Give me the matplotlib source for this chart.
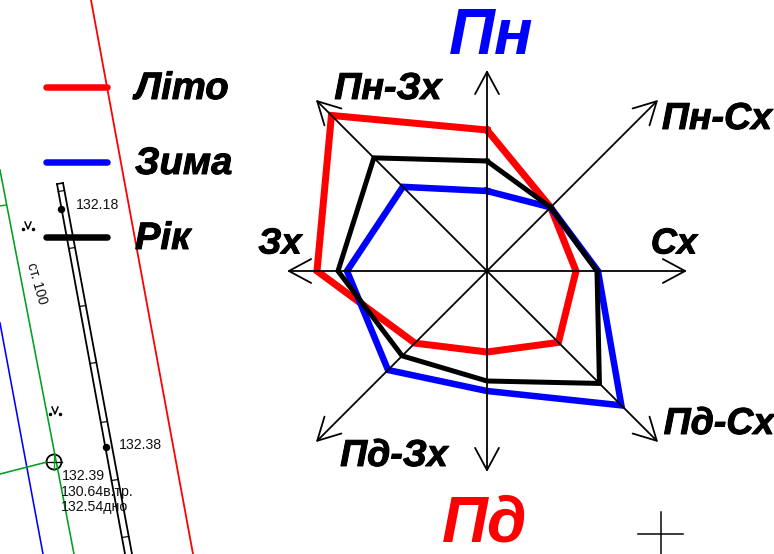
"""Wind rose over a site plan fragment, drawn in pixel coordinates."""

import matplotlib
matplotlib.use("Agg")
import matplotlib.pyplot as plt
import matplotlib.patheffects as pe
import numpy as np

plt.rcParams["font.family"] = ["Liberation Sans", "DejaVu Sans"]

W, H = 774, 554
CX, CY = 487, 271

# clockwise from north, radius in pixels
DIRECTIONS = ["Пн", "Пн-Сх", "Сх", "Пд-Сх", "Пд", "Пд-Зх", "Зх", "Пн-Зх"]
ANGLES = [90, 45, 0, -45, -90, -135, 180, 135]
AXIS_LEN = [201, 242, 200, 242, 201, 242, 200, 242]
SUMMER = [141, 90, 89, 101, 81, 102, 170, 220]
WINTER = [80, 90, 111, 190, 120, 140, 140, 119]
YEAR = [110, 90, 110, 159, 110, 120, 149, 160]

SERIES_NAMES = ["Літо", "Зима", "Рік"]
SERIES_COLORS = ["#ff0000", "#0000ff", "#000000"]

# site plan
PIPE_LEFT = ([57, 125], [184, 554])
PIPE_RIGHT = ([63, 132], [183, 554])
PIPE_TICKS_Y = [191, 248, 306, 363, 422, 480, 537]
PIPE_DOTS = [(61, 209), (106, 447)]
PIPE_LABELS = [(76, 205, "132.18"), (119, 445, "132.38")]

HEAVY = [pe.withStroke(linewidth=0.7, foreground="k")]


def px(v):
    return v * 0.72


def polar(r, ang):
    a = np.radians(ang)
    return CX + r * np.cos(a), CY - r * np.sin(a)


def draw_plan(ax):
    ax.plot([91, 193], [0, 554], color="#ff0000", lw=px(1.8))
    ax.plot([0, 74], [170, 554], color="#00a020", lw=px(1.6))
    ax.plot([0, 43], [323, 554], color="#0000ff", lw=px(1.6))
    ax.plot([0, 47], [474, 462], color="#00a020", lw=px(1.6))
    ax.plot([0, 6], [206, 205], color="#00a020", lw=px(1.4))

    ax.plot(*PIPE_LEFT, color="k", lw=px(1.8))
    ax.plot(*PIPE_RIGHT, color="k", lw=px(1.8))
    ax.plot([57, 63], [184, 183], color="k", lw=px(1.6))
    for y in PIPE_TICKS_Y:
        xl = np.interp(y, PIPE_LEFT[1], PIPE_LEFT[0])
        xr = np.interp(y, PIPE_RIGHT[1], PIPE_RIGHT[0])
        ax.plot([xl, xr], [y + 0.5, y - 0.5], color="k", lw=px(1.2))

    for x, y in PIPE_DOTS:
        ax.plot(x, y, "o", color="k", ms=px(6))
    for x, y, label in PIPE_LABELS:
        ax.text(x, y, label, fontsize=10.2, va="center", color="#111")

    # well
    ax.add_patch(plt.Circle((54, 462), 7.5, fill=False, ec="k", lw=px(1.8)))
    ax.plot([47, 62], [462, 462], color="k", lw=px(1.3))
    ax.plot([54, 54], [455, 470], color="#00a020", lw=px(1.3))
    ax.text(62, 476, "132.39", fontsize=10.2, va="center", color="#111")
    ax.text(61, 492, "130.64в.тр.", fontsize=10.2, va="center", color="#111")
    ax.text(61, 507, "132.54дно", fontsize=10.2, va="center", color="#111")

    ax.text(37, 283, "ст. 100", fontsize=10, rotation=-74, ha="center", va="center",
            color="#111")

    # marsh symbols
    for x, y in [(28, 226), (55, 411)]:
        ax.plot([x - 3, x, x + 3], [y - 4, y + 3, y - 4], color="k", lw=px(1.5))
        ax.plot([x - 5, x + 5], [y + 3, y + 3], color="k", lw=0, marker=".", ms=3)


def draw_axes(ax):
    for ang, length in zip(ANGLES, AXIS_LEN):
        x, y = polar(length, ang)
        ax.annotate("", xy=(x, y), xytext=(CX, CY),
                    arrowprops=dict(arrowstyle="->,head_length=0.8,head_width=0.43",
                                    color="k", lw=px(1.8), mutation_scale=20,
                                    shrinkA=0, shrinkB=0))


def draw_rose(ax):
    for vals, color, lw in [(SUMMER, SERIES_COLORS[0], 7),
                            (WINTER, SERIES_COLORS[1], 6.5),
                            (YEAR, SERIES_COLORS[2], 5)]:
        pts = [polar(r, a) for r, a in zip(vals, ANGLES)]
        pts.append(pts[0])
        xs, ys = zip(*pts)
        ax.plot(xs, ys, color=color, lw=px(lw), solid_joinstyle="miter")


def draw_labels(ax):
    style = dict(fontweight="bold", fontstyle="italic", ha="center", va="center")
    ax.text(491, 37, DIRECTIONS[0], color="#0000ff", fontsize=46, **style)
    ax.text(485, 524, DIRECTIONS[4], color="#ff0000", fontsize=46, **style)
    ax.text(717, 119, DIRECTIONS[1], fontsize=27, path_effects=HEAVY, **style)
    ax.text(674, 244, DIRECTIONS[2], fontsize=26, path_effects=HEAVY, **style)
    ax.text(719, 424, DIRECTIONS[3], fontsize=27, path_effects=HEAVY, **style)
    ax.text(394, 456, DIRECTIONS[5], fontsize=27, path_effects=HEAVY, **style)
    ax.text(280, 244, DIRECTIONS[6], fontsize=26, path_effects=HEAVY, **style)
    ax.text(388, 89, DIRECTIONS[7], fontsize=27, path_effects=HEAVY, **style)

    for name, color, y in zip(SERIES_NAMES, SERIES_COLORS, [87, 162, 237]):
        ax.plot([46, 107], [y, y], color=color, lw=px(6.5), solid_capstyle="round")
        ax.text(135, y + 2, name, fontsize=27.5, fontweight="bold", fontstyle="italic",
                va="center", ha="left", path_effects=HEAVY)

    # stray cross, bottom right
    ax.plot([638, 683], [534, 534], color="k", lw=px(1.5))
    ax.plot([661, 661], [512, 554], color="k", lw=px(1.5))


fig = plt.figure(figsize=(W / 100, H / 100), dpi=100)
ax = fig.add_axes([0, 0, 1, 1])
ax.set_xlim(0, W)
ax.set_ylim(H, 0)
ax.axis("off")

draw_plan(ax)
draw_axes(ax)
draw_rose(ax)
draw_labels(ax)

fig.savefig("out.png", dpi=100)
plt.close(fig)
